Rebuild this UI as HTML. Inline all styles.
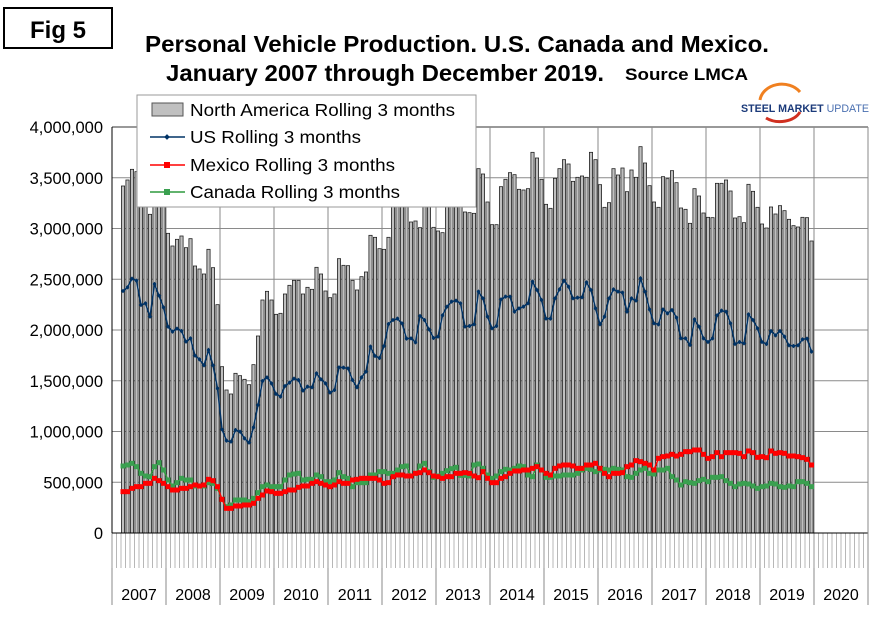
<!DOCTYPE html>
<html><head><meta charset="utf-8"><style>
body{margin:0;background:#fff;}
svg{display:block;font-family:"Liberation Sans",Arial,sans-serif;}
</style></head><body>
<svg id="c" width="895" height="622" viewBox="0 0 895 622" xmlns="http://www.w3.org/2000/svg">
<rect width="895" height="622" fill="#fff"/>
<g id="grid"></g>
<g id="bars"></g>
<g id="lines"></g>
<g id="axes"></g>
<!-- Fig box -->
<rect x="4" y="8" width="108" height="40" fill="#fff" stroke="#000" stroke-width="2"/>
<text x="58" y="38" font-size="24" font-weight="bold" text-anchor="middle">Fig 5</text>
<text x="457" y="52" font-size="23" font-weight="bold" text-anchor="middle" textLength="624" lengthAdjust="spacingAndGlyphs">Personal Vehicle Production. U.S. Canada and Mexico.</text>
<text x="166" y="81" font-size="23" font-weight="bold" textLength="438" lengthAdjust="spacingAndGlyphs">January 2007 through December 2019.</text>
<text x="625" y="80" font-size="17" font-weight="bold" textLength="123" lengthAdjust="spacingAndGlyphs">Source LMCA</text>
<!-- logo -->
<path d="M760 100 A22 18 0 0 1 800 92" fill="none" stroke="#f08020" stroke-width="3"/>
<path d="M766 118 A22 16 0 0 0 800 112" fill="none" stroke="#d03020" stroke-width="3"/>
<text x="741" y="112" font-size="11" font-weight="bold" fill="#1b3a7a" textLength="128" lengthAdjust="spacingAndGlyphs">STEEL MARKET <tspan font-weight="normal" fill="#4a6fb0">UPDATE</tspan></text>
<!-- legend -->
<rect x="137" y="95" width="339" height="112" fill="#fff" stroke="#999" stroke-width="1"/>
<rect x="152" y="103" width="31" height="13" fill="#c0c0c0" stroke="#555"/>
<text x="190" y="116" font-size="17.5" textLength="265" lengthAdjust="spacingAndGlyphs">North America Rolling 3 months</text>
<line x1="150" y1="137" x2="185" y2="137" stroke="#003366" stroke-width="1.5"/>
<rect x="165" y="135" width="4" height="4" fill="#003366" transform="rotate(45 167 137)"/>
<text x="190" y="143" font-size="17.5" textLength="171" lengthAdjust="spacingAndGlyphs">US Rolling 3 months</text>
<line x1="150" y1="165" x2="185" y2="165" stroke="#ff0000" stroke-width="1.5"/>
<rect x="164" y="162" width="6" height="6" fill="#ff0000"/>
<text x="190" y="171" font-size="17.5" textLength="205" lengthAdjust="spacingAndGlyphs">Mexico Rolling 3 months</text>
<line x1="150" y1="192" x2="185" y2="192" stroke="#2e9a3e" stroke-width="1.5"/>
<rect x="164" y="189" width="6" height="6" fill="#3aa050"/>
<text x="190" y="198" font-size="17.5" textLength="210" lengthAdjust="spacingAndGlyphs">Canada Rolling 3 months</text>
</svg>
<script>
(function(){
var NS="http://www.w3.org/2000/svg";
function el(p,t,a){var e=document.createElementNS(NS,t);for(var k in a)e.setAttribute(k,a[k]);p.appendChild(e);return e;}
var X0=112,MW=4.5,Y0=533;
var grid=document.getElementById('grid'),bars=document.getElementById('bars'),lines=document.getElementById('lines'),axes=document.getElementById('axes');
for(var v=0;v<=8;v++){var y=Y0-v*50.75;
 el(grid,'line',{x1:X0,x2:868,y1:y,y2:y,stroke:v==8?'#333':'#8a8a8a','stroke-width':1});
 var t=el(axes,'text',{x:103,y:y+6,'font-size':16.5,'text-anchor':'end'});
 t.textContent=v==0?'0':(v*500000).toLocaleString('en-US');}
for(var yr=0;yr<=14;yr++){var x=X0+yr*54;
 el(grid,'line',{x1:x,x2:x,y1:127,y2:605,stroke:'#8a8a8a','stroke-width':1});}
for(var m=0;m<168;m++){var x=X0+m*MW;
 el(axes,'line',{x1:x,x2:x,y1:Y0,y2:568,stroke:'#999','stroke-width':0.7});}
for(var yr=0;yr<14;yr++){var t=el(axes,'text',{x:X0+yr*54+27,y:600,'font-size':16,'text-anchor':'middle'});t.textContent=2007+yr;}
el(axes,'line',{x1:X0,x2:X0,y1:127,y2:533,stroke:'#000','stroke-width':1});
el(axes,'line',{x1:X0,x2:868,y1:Y0,y2:Y0,stroke:'#000','stroke-width':1});
el(axes,'line',{x1:868,x2:868,y1:127,y2:605,stroke:'#8a8a8a','stroke-width':1});
function zy(z){return 90+z/3;}
var NA=[288,270,238,245,300,330,373,320,290,340,
430,468,448,438,473,446,528,537,552,478,533,644,830,900,912,850,857,868,884,824,738,630,604,630,673,670,612,586,571,571,612,592,598,532,552,603,623,612,506,526,527,571,600,560,546,
436,442,476,478,442,320,300,330,340,396,393,413,330,320,412,423,428,300,320,300,340,
366,368,370,236,252,336,404,404,290,268,248,254,298,300,296,187,204,268,343,355,265,236,209,222,274,262,258,262,187,209,284,352,338,
236,255,234,305,240,262,170,219,287,336,352,260,266,242,278,354,358,400,296,318,369,382,383,280,280,270,303,384,380,398,283,304,352,402,414,351,372,347,362,388,407,411,382,383,453];
var US1=[603,592,566,572,645,640,680,582,617,652,710,725,716,723,755,745,797,808,826,780,826,895,1018,1052,1055,1020,1025,1045,1058,1012,945,873,862,880,912,920,888,878,866,870,902,890,892,850,868,880,908,900,832,833,835,870,892,862,845,770];
var US2=[772,798,804,768,702,690,686,700,746,745,757,678,690,718,744,740,676,650,635,632,640,710,708,703,605,625,680,715,708,628,620,620,665,655,650,640,575,600,630,686,686,625,598,572,590,625,623,622,577,600,655,703,680,625,600,610,612];
var US3=[598,605,608,665,625,632,565,605,658,700,703,658,670,660,683,745,745,765,688,710,745,756,745,676,662,665,700,762,756,760,673,690,715,756,762,723,736,723,740,766,768,766,748,746,785];
var MX1=[1205,1205,1195,1190,1190,1180,1180,1165,1172,1180,1190,1200,1200,1195,1195,1190,1185,1188,1185,1168,1172,1190,1228,1255,1255,1248,1248,1245,1245,1240,1225,1215,1203,1205,1210,1210,1205,1200,1200,1192,1188,1188,1180,1175,1180,1185,1190,1185,1175,1180,1180,1170,1168,1165,1165,1165];
var MX2=[1168,1165,1170,1180,1178,1160,1155,1155,1158,1158,1150,1148,1140,1148,1158,1160,1165,1160,1160,1150,1150,1148,1150,1158,1163,1145,1165,1178,1178,1165,1160,1150,1143,1143,1140,1140,1135,1130,1140,1150,1155,1135,1128,1125,1125,1128,1135,1135,1125,1125,1120,1135,1150,1160,1150,1150,1148,1140];
var MX3=[1150,1150,1148,1130,1125,1112,1115,1120,1125,1140,1105,1100,1098,1093,1098,1093,1085,1085,1080,1080,1093,1105,1100,1088,1100,1088,1088,1088,1090,1100,1083,1088,1102,1100,1103,1083,1090,1088,1090,1098,1098,1100,1103,1108,1125];
var CA1=[1128,1125,1120,1130,1150,1158,1160,1130,1118,1140,1170,1188,1178,1165,1170,1170,1188,1188,1188,1178,1180,1195,1228,1250,1245,1230,1230,1230,1235,1225,1208,1190,1185,1190,1190,1190,1170,1155,1152,1150,1170,1168,1168,1155,1160,1175,1175,1170,1148,1160,1165,1190,1178,1178,1178,1155];
var CA2=[1150,1155,1145,1145,1150,1150,1140,1130,1128,1158,1150,1128,1120,1145,1162,1158,1150,1142,1136,1132,1156,1156,1158,1125,1122,1135,1155,1165,1158,1145,1138,1140,1135,1128,1130,1155,1160,1125,1140,1162,1162,1158,1158,1155,1155,1155,1150,1140,1135,1138,1145,1140,1138,1140,1135,1132,1135];
var CA3=[1135,1138,1140,1160,1162,1150,1140,1135,1150,1152,1140,1140,1135,1160,1170,1185,1175,1178,1180,1172,1168,1175,1162,1162,1160,1172,1180,1190,1182,1180,1182,1188,1195,1190,1188,1180,1182,1190,1192,1188,1190,1175,1175,1180,1190];
function full(a,b,c){return a.concat(b.slice(1,54)).concat(c);}
var US=full(US1,US2,US3),MX=full(MX1,MX2,MX3),CA=full(CA1,CA2,CA3);
function cx(i){return X0+MW*i+2.0;}
for(var k=0;k<NA.length;k++){var i=k+2,y=zy(NA[k]);
 el(bars,'rect',{x:(cx(i)-1.6).toFixed(2),y:y.toFixed(2),width:3.2,height:(Y0-y).toFixed(2),fill:'#c0c0c0',stroke:'#222','stroke-width':0.8});}
function series(arr,col,mk,mcol){var p=[];for(var k=0;k<arr.length;k++)p.push(cx(k+2).toFixed(2)+','+zy(arr[k]).toFixed(2));
 el(lines,'polyline',{points:p.join(' '),fill:'none',stroke:col,'stroke-width':1.5});
 for(var k=0;k<arr.length;k++){var x=cx(k+2),y=zy(arr[k]);
  if(mk=='d')el(lines,'rect',{x:x-1.6,y:y-1.6,width:3.2,height:3.2,fill:mcol,transform:'rotate(45 '+x+' '+y+')'});
  else el(lines,'rect',{x:x-2.5,y:y-2.5,width:5,height:5,fill:mcol});}}
series(CA,'#2e9a3e','s','#3aa050');
series(MX,'#ff0000','s','#ff0000');
series(US,'#003366','d','#003366');
})();
</script>
</body></html>
